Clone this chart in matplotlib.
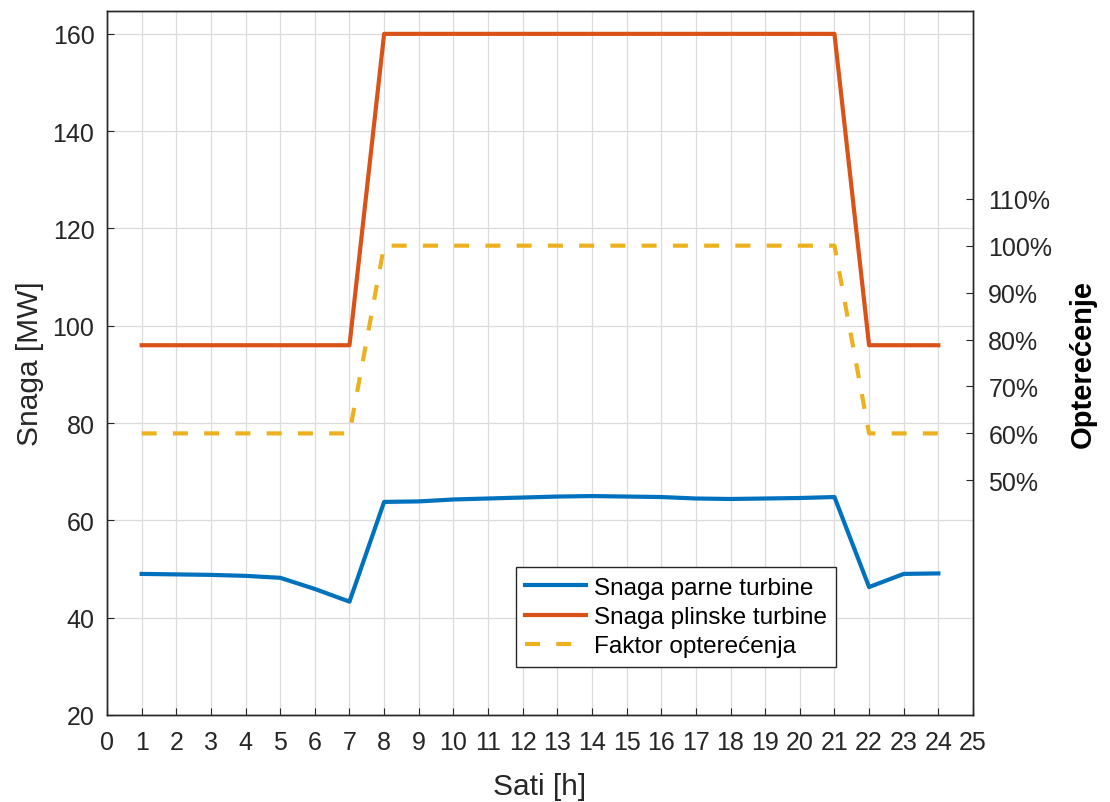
import numpy as np
import matplotlib.pyplot as plt
from matplotlib import font_manager as fm

plt.rcParams['font.family'] = ['Liberation Sans', 'DejaVu Sans']

# hourly data
hours = np.arange(1, 25)
steam = [49.0, 48.9, 48.8, 48.6, 48.2, 45.9, 43.3, 63.8, 63.9, 64.3,
         64.5, 64.7, 64.9, 65.0, 64.9, 64.8, 64.5, 64.4, 64.5, 64.6,
         64.8, 46.3, 49.0, 49.1]
gas = [96]*7 + [160]*14 + [96]*3
load = [0.6]*7 + [1.0]*14 + [0.6]*3

x_ticks = list(range(0, 26))
y_ticks = [20, 40, 60, 80, 100, 120, 140, 160]
pct_ticks = [0.5, 0.6, 0.7, 0.8, 0.9, 1.0, 1.1]

blue = '#0072BD'
orange = '#D95319'
yellow = '#EDB120'
txt = '#262626'

# pick the regular-width bold face explicitly
bold_files = [f for f in fm.findSystemFonts()
              if f.endswith('LiberationSans-Bold.ttf')]
if bold_files:
    bold_fp = fm.FontProperties(fname=bold_files[0], size=21)
else:
    bold_fp = fm.FontProperties(family='DejaVu Sans', weight='bold', size=20)

fig = plt.figure(figsize=(11.1, 8.03), dpi=100)
ax = fig.add_axes([107/1110, 87/803, 866/1110, 704/803])
ax2 = ax.twinx()

l1, = ax.plot(hours, steam, color=blue, lw=3.0, label='Snaga parne turbine')
l2, = ax.plot(hours, gas, color=orange, lw=3.0, label='Snaga plinske turbine')
l3, = ax2.plot(hours, load, color=yellow, lw=3.0, ls=(0, (3.6, 3.9)),
               label='Faktor opterećenja')

ax.set_xlim(0, 25)
ax.set_ylim(20, 164.7)
ax.set_xticks(x_ticks)
ax.set_yticks(y_ticks)
ax.grid(True, color='#dcdcdc', lw=0.9)
ax.tick_params(direction='in', length=5, labelsize=18, colors=txt,
               right=False, top=False)
ax.tick_params(axis='x', pad=11)
ax.tick_params(axis='y', pad=9)
ax.set_xlabel('Sati [h]', fontsize=21.5, color=txt, labelpad=13)
ax.set_ylabel('Snaga [MW]', fontsize=21.5, color=txt, labelpad=6)

ax2.set_ylim(0, 1.5)
ax2.set_yticks(pct_ticks)
ax2.set_yticklabels([f'{int(round(p*100))}%' for p in pct_ticks])
ax2.tick_params(direction='in', length=5, labelsize=18, colors=txt, pad=11)
ax2.set_ylabel('Opterećenje', fontproperties=bold_fp, labelpad=12)

for a in (ax, ax2):
    for s in a.spines.values():
        s.set_color(txt)
        s.set_linewidth(1.0)

leg = ax.legend(handles=[l1, l2, l3], loc='lower left',
                bbox_to_anchor=(0.472, 0.068), fontsize=17.5,
                fancybox=False, framealpha=1, edgecolor=txt,
                handlelength=2.5, handletextpad=0.3, borderpad=0.4,
                labelspacing=0.3, borderaxespad=0)
leg.get_frame().set_linewidth(1.0)

fig.savefig('out.png', dpi=100)
